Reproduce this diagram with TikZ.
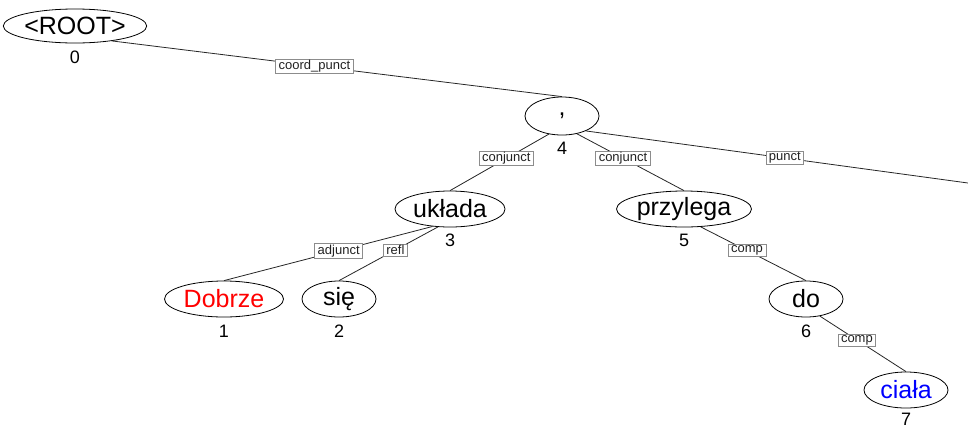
\documentclass[tikz,border=0pt]{standalone}
\usepackage{fontspec}
\setmainfont{Liberation Sans}
\usetikzlibrary{shapes.geometric}
\definecolor{relframe}{HTML}{8C8C8C}
\definecolor{reltext}{HTML}{222222}
\definecolor{wordred}{HTML}{FF0000}
\definecolor{wordblue}{HTML}{0000FF}
\begin{document}
\begin{tikzpicture}[x=1pt,y=-1pt,
  word/.style={ellipse, draw, line width=0.8pt, inner sep=0pt, minimum height=36pt,
    font=\fontsize{25}{30}\selectfont},
  idx/.style={inner sep=0pt, font=\fontsize{18}{21}\selectfont},
  rel/.style={draw=relframe, fill=white, line width=0.6pt, text=reltext,
    inner xsep=3pt, inner ysep=1pt, font=\fontsize{13}{15}\selectfont},
  arc/.style={line width=0.8pt, draw=black!85}]
\useasboundingbox (0,0) rectangle (968,429);
\clip (0,0) rectangle (968,429);

% tokens
\node[word, minimum width=142pt, minimum height=34pt] (n0) at (75,26) {<ROOT>};
\node[word, minimum width=74pt, minimum height=38pt] (n4) at (562,116) {,};
\node[word, minimum width=110pt] (n3) at (450,209) {układa};
\node[word, minimum width=135pt] (n5) at (684,209) {przylega};
\node[word, minimum width=119pt, text=wordred] (n1) at (224,299) {Dobrze};
\node[word, minimum width=74pt] (n2) at (339,299) {się};
\node[word, minimum width=74pt] (n6) at (806,299) {do};
\node[word, minimum width=84pt, text=wordblue] (n7) at (906,390) {ciała};

% token indices
\node[idx] (i0) at (75,57) {0};
\node[idx] (i4) at (562,148) {4};
\node[idx] (i3) at (450,240) {3};
\node[idx] (i5) at (684,240) {5};
\node[idx] (i1) at (224,331) {1};
\node[idx] (i2) at (339,331) {2};
\node[idx] (i6) at (806,331) {6};
\node[idx] (i7) at (906,419.5) {7};

% head of the punct arc lies beyond the frame
\coordinate (far) at (1100,201);

% dependency arcs
\draw[arc] (n0.-22) -- node[rel, pos=0.45] {coord\_punct} (n4.north);
\draw[arc] (n4.-126) -- node[rel, pos=0.43] {conjunct} (n3.north);
\draw[arc] (n4.-50) -- node[rel, pos=0.43] {conjunct} (n5.north);
\draw[arc] (n4.-32) -- node[rel, pos=0.387] {punct} (far);
\draw[arc] (n3.-135) -- node[rel, pos=0.45] {adjunct} (n1.north);
\draw[arc] (n3.-124) -- node[rel, pos=0.43] {refl} (n2.north);
\draw[arc] (n5.-47) -- node[rel, pos=0.44] {comp} (n6.north);
\draw[arc] (n6.-51) -- node[rel, pos=0.43] {comp} (n7.north);
\end{tikzpicture}
\end{document}
